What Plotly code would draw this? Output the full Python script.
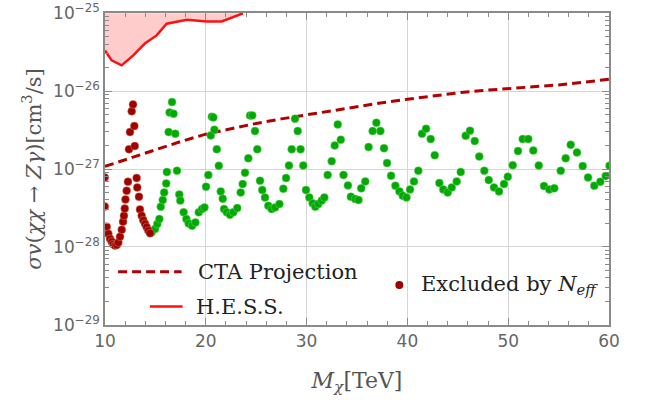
import plotly.graph_objects as go

# ---------------- data ----------------
red_M = [9.97, 9.97, 10.17, 10.33, 10.5, 10.66, 10.82, 10.99, 11.16, 11.32, 11.49, 11.66,
         11.79, 11.88, 11.96, 12.03, 12.15, 12.28, 12.38, 12.48, 12.65, 12.78, 12.91, 12.95,
         13.14, 13.2, 13.37, 13.47, 13.64, 13.8, 13.97, 14.13, 14.3, 14.47]
red_sigma = [7.8e-28, 3.3e-28, 1.82e-28, 1.47e-28, 1.27e-28, 1.17e-28, 1.08e-28, 1.04e-28,
             1.06e-28, 1.14e-28, 1.35e-28, 1.66e-28, 2.11e-28, 2.51e-28, 3.1e-28, 4.07e-28,
             5.26e-28, 6.87e-28, 1.79e-27, 2.98e-27, 5.5e-27, 6.75e-27, 3.56e-27, 1.97e-27,
             7.66e-28, 5.8e-28, 4.41e-28, 3.03e-28, 2.51e-28, 2.2e-28, 1.98e-28, 1.8e-28,
             1.62e-28, 1.5e-28]

green_M = [14.63, 14.96, 15.19, 15.39, 15.53, 15.73, 15.87, 16.07, 16.14, 16.31, 16.41, 16.65,
           16.8, 16.97, 17.14, 17.37, 17.47, 17.8, 18.07, 18.3, 18.64, 18.97, 19.3, 19.63,
           19.87, 20.02, 20.25, 20.49, 20.6, 20.75, 20.85, 21.09, 21.29, 21.48, 21.68, 21.81,
           22.08, 22.4, 22.73, 23.12, 23.46, 23.66, 23.89, 24.22, 24.39, 24.61, 24.88, 25.11,
           25.38, 25.6, 25.87, 26.2, 26.53, 26.87, 27.3, 27.69, 27.96, 28.25, 28.52, 28.85,
           29.12, 29.4, 29.67, 29.94, 30.27, 30.6, 30.86, 31.16, 31.5, 31.76, 32.09, 32.49,
           32.79, 33.09, 33.39, 33.66, 34.1, 34.39, 34.82, 35.15, 35.42, 35.82, 36.15, 36.55,
           36.92, 37.32, 37.68, 37.98, 38.38, 38.81, 39.21, 39.54, 39.91, 40.26, 40.65, 41.08,
           41.45, 41.85, 42.31, 42.71, 43.17, 43.56, 44.0, 44.4, 44.89, 45.29, 45.78, 46.21,
           46.68, 47.13, 47.63, 48.07, 48.59, 49.09, 49.58, 49.96, 50.45, 50.97, 51.44, 51.99,
           52.49, 53.03, 53.55, 54.08, 54.57, 55.21, 55.7, 56.2, 56.82, 57.39, 57.92, 58.54,
           59.14, 59.67, 60.05]
green_sigma = [1.54e-28, 1.7e-28, 1.97e-28, 2.28e-28, 3.28e-28, 4.0e-28, 5.0e-28, 6.53e-28,
               9.15e-28, 2.98e-27, 5.33e-27, 7.23e-27, 5.13e-27, 2.84e-27, 9.5e-28, 4.69e-28,
               3.93e-28, 2.78e-28, 2.28e-28, 2.0e-28, 1.87e-28, 2.06e-28, 2.78e-28, 3.06e-28,
               3.21e-28, 5.93e-28, 8.4e-28, 2.7e-27, 4.7e-27, 4.6e-27, 3.2e-27, 1.79e-27,
               1.1e-27, 5.16e-28, 4.16e-28, 3.06e-28, 2.78e-28, 2.59e-28, 2.78e-28, 3.16e-28,
               5.0e-28, 6.41e-28, 8.97e-28, 1.37e-27, 4.88e-27, 4.88e-27, 3.07e-27, 1.79e-27,
               7.08e-28, 5.37e-28, 4.31e-28, 3.37e-28, 3.06e-28, 3.21e-28, 3.55e-28, 5.58e-28,
               7.66e-28, 1.11e-27, 1.79e-27, 4.43e-27, 3.07e-27, 1.79e-27, 1.11e-27, 5.37e-28,
               4.31e-28, 3.62e-28, 3.28e-28, 3.55e-28, 3.93e-28, 4.31e-28, 8.4e-28, 1.26e-27,
               2.01e-27, 3.74e-27, 2.38e-27, 8.4e-28, 6.16e-28, 4.41e-28, 4.12e-28, 4.0e-28,
               5.64e-28, 6.93e-28, 1.91e-27, 3.07e-27, 3.93e-27, 3.07e-27, 1.85e-27, 1.19e-27,
               8.2e-28, 6.1e-28, 5.16e-28, 4.54e-28, 4.31e-28, 5.47e-28, 6.93e-28, 9.5e-28,
               2.84e-27, 3.29e-27, 2.42e-27, 1.5e-27, 6.6e-28, 5.47e-28, 5.0e-28, 5.8e-28,
               6.93e-28, 9.15e-28, 2.67e-27, 3.1e-27, 2.28e-27, 1.45e-27, 9.5e-28, 7.2e-28,
               5.8e-28, 5.16e-28, 6.41e-28, 7.96e-28, 1.12e-27, 1.7e-27, 2.42e-27, 2.42e-27,
               1.73e-27, 1.11e-27, 6.05e-28, 5.47e-28, 5.64e-28, 9.5e-28, 1.37e-27, 2.05e-27,
               1.63e-27, 1.09e-27, 7.8e-28, 6.1e-28, 6.87e-28, 8.13e-28, 1.1e-27]

cta_M = [10, 12.5, 15, 17.5, 20, 22.5, 25, 27.5, 30, 32.5, 35, 37.5, 40, 42.5, 45, 47.5,
         50, 52.5, 55, 57.5, 60]
cta_sigma = [1.08e-27, 1.38e-27, 1.8e-27, 2.25e-27, 2.8e-27, 3.3e-27, 3.85e-27, 4.4e-27,
             4.95e-27, 5.65e-27, 6.35e-27, 7.1e-27, 7.85e-27, 8.7e-27, 9.5e-27, 1.02e-26,
             1.07e-26, 1.13e-26, 1.2e-26, 1.3e-26, 1.42e-26]

hess_M = [10.0, 10.66, 11.65, 12.8, 13.99, 15.12, 16.12, 18.12, 20.1, 21.58, 23.7]
hess_sigma = [3.33e-26, 2.48e-26, 2.14e-26, 2.87e-26, 4.13e-26, 5.19e-26, 7.33e-26,
              8.26e-26, 7.85e-26, 7.85e-26, 1.0e-25]

y_top = 1e-25
x_ticks = [10, 20, 30, 40, 50, 60]
y_exps = [-29, -28, -27, -26, -25]
y_ticks = [10.0 ** e for e in y_exps]
y_ticktext = ["10<sup>\u2212%d</sup>" % (-e) for e in y_exps]
y_minor = [k * 10.0 ** e for e in y_exps[:-1] for k in range(2, 10)]

# ---------------- figure ----------------
fig = go.Figure()

# upper boundary for the H.E.S.S. exclusion fill
fig.add_trace(go.Scatter(x=hess_M, y=[y_top] * len(hess_M), mode="lines",
                         line=dict(width=0, color="rgba(0,0,0,0)"),
                         showlegend=False, hoverinfo="skip"))
fig.add_trace(go.Scatter(x=hess_M, y=hess_sigma, mode="lines", fill="tonexty",
                         fillcolor="rgba(255,0,0,0.2)",
                         line=dict(color="#ff1010", width=2.5), showlegend=False))

fig.add_trace(go.Scatter(x=cta_M, y=cta_sigma, mode="lines",
                         line=dict(color="#b00000", width=3, dash="9px,5px"),
                         showlegend=False))

fig.add_trace(go.Scatter(x=green_M, y=green_sigma, mode="markers",
                         marker=dict(color="#00aa00", size=8,
                                     line=dict(color="rgba(120,210,120,0.6)", width=0.8)),
                         showlegend=False))
fig.add_trace(go.Scatter(x=red_M, y=red_sigma, mode="markers",
                         marker=dict(color="#a00000", size=8,
                                     line=dict(color="rgba(200,140,100,0.6)", width=0.8)),
                         showlegend=False))

axis_col = "#8a8a8a"
grid_col = "#d6d6d6"
tick_font = dict(family="DejaVu Sans", size=17, color="#666666")
serif = "DejaVu Serif"
y_range = [-29.003, -24.997]

fig.update_xaxes(range=[10, 60], tickvals=x_ticks, ticktext=[str(v) for v in x_ticks],
                 automargin=False,
                 showline=True, linecolor=axis_col, linewidth=1.5, mirror="ticks",
                 ticks="inside", ticklen=7, tickcolor=axis_col, tickwidth=1,
                 showgrid=True, gridcolor=grid_col, gridwidth=1, zeroline=False,
                 minor=dict(dtick=2, ticks="inside", ticklen=4, tickcolor=axis_col,
                            showgrid=False),
                 tickfont=tick_font,
                 title=dict(text="<i>M</i><sub><i>χ</i></sub>[TeV]",
                            font=dict(family=serif, size=22, color="#555555"),
                            standoff=22))
fig.update_layout(
    yaxis=dict(type="log", range=y_range, tickvals=y_ticks, ticktext=y_ticktext,
               automargin=False,
               showline=True, linecolor=axis_col, linewidth=1.5, mirror="ticks",
               ticks="inside", ticklen=7, tickcolor=axis_col, tickwidth=1,
               showgrid=True, gridcolor=grid_col, gridwidth=1, zeroline=False,
               tickfont=tick_font,
               title=dict(text="<i>σv</i>(<i>χχ</i> → <i>Zγ</i>)[cm<sup>3</sup>/s]",
                          font=dict(family=serif, size=21, color="#555555"),
                          standoff=6)),
    yaxis2=dict(type="log", range=y_range, overlaying="y", anchor="x", side="left",
                automargin=False,
                tickvals=y_minor, showticklabels=False, ticks="inside", ticklen=4,
                tickcolor=axis_col, tickwidth=1, showline=True, linecolor=axis_col,
                linewidth=1.5, mirror="ticks", showgrid=False, zeroline=False),
)
# an invisible trace so the minor-tick axis is drawn
fig.add_trace(go.Scatter(x=[cta_M[0]], y=[cta_sigma[0]], yaxis="y2", mode="markers",
                         marker=dict(opacity=0), showlegend=False, hoverinfo="skip"))

# ---------------- legend (drawn manually) ----------------
leg_font = dict(family=serif, size=21, color="#222222")
shapes = [
    dict(type="line", xref="paper", yref="paper", x0=0.026, x1=0.152, y0=0.171, y1=0.171,
         line=dict(color="#b00000", width=3, dash="9px,5px")),
    dict(type="line", xref="paper", yref="paper", x0=0.089, x1=0.154, y0=0.059, y1=0.059,
         line=dict(color="#ff1010", width=2.5)),
    dict(type="circle", xref="paper", yref="paper", xsizemode="pixel", ysizemode="pixel",
         xanchor=0.584, yanchor=0.128, x0=-4, x1=4, y0=-4, y1=4,
         fillcolor="#a00000", line=dict(color="#a00000", width=0)),
]
annotations = [
    dict(text="CTA Projection", xref="paper", yref="paper", x=0.180, y=0.171,
         xanchor="left", yanchor="middle", showarrow=False, font=leg_font),
    dict(text="H.E.S.S.", xref="paper", yref="paper", x=0.176, y=0.059,
         xanchor="left", yanchor="middle", showarrow=False, font=leg_font),
    dict(text="Excluded by <i>N</i><sub><i>eff</i></sub>", xref="paper", yref="paper",
         x=0.623, y=0.128, xanchor="left", yanchor="middle", showarrow=False,
         font=leg_font),
]

fig.update_layout(width=646, height=401, margin=dict(l=105, r=37, t=13, b=76),
                  paper_bgcolor="white", plot_bgcolor="white",
                  shapes=shapes, annotations=annotations, showlegend=False)

fig.write_html("out.html")
